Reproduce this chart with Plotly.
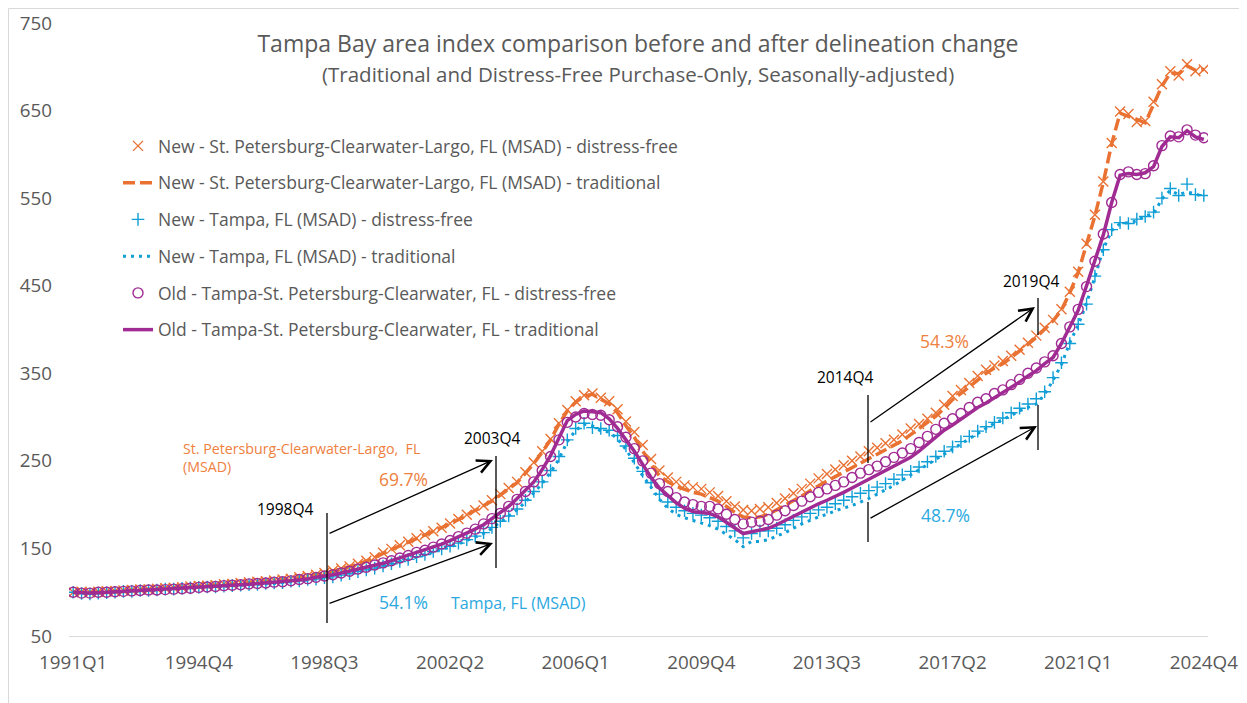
import plotly.graph_objects as go

# quarters 1991Q1 .. 2024Q4
quarters = [f"{1991 + i // 4}Q{i % 4 + 1}" for i in range(136)]
tick_labels = ["1991Q1", "1994Q4", "1998Q3", "2002Q2", "2006Q1",
               "2009Q4", "2013Q3", "2017Q2", "2021Q1", "2024Q4"]

# New - St. Petersburg-Clearwater-Largo, FL (MSAD)
stpete_df = [
    100, 100.5, 100, 100.5, 101, 101, 102, 102.5,
    103, 103, 104, 104.5, 105, 105.5, 106.5, 107,
    107.5, 108, 109, 109.5, 110.5, 111, 112, 112.5,
    113.5, 114.5, 115.5, 117, 118.5, 120, 122, 124.5,
    127, 129.5, 132.5, 136, 140, 145, 149.5, 153.5,
    157.5, 161.5, 165.5, 169.5, 173.5, 178.5, 183.5, 188.5,
    193.5, 199, 205, 212, 219, 226, 237, 248,
    261, 275, 293, 308, 318, 325, 327, 322,
    318, 309, 295, 283, 268, 252, 239, 231,
    226, 222, 220, 218, 214, 210, 204, 198,
    194, 193, 195, 197, 202, 207, 213, 218,
    224, 230, 235, 240, 245, 250, 255, 261,
    265, 270, 274, 280, 287, 292, 298, 305,
    314, 324, 331, 339, 347, 354, 359, 364,
    370, 377, 385, 393, 402, 411, 423, 443,
    466, 498, 531, 569, 613, 649, 646, 637,
    638, 660, 680, 695, 690, 703, 695, 697,
]
stpete_trad = [
    100, 100, 99.5, 100, 100.5, 101, 101.5, 102,
    102.5, 103, 103.5, 104, 104.5, 105, 106, 106.5,
    107, 107.5, 108.5, 109, 110, 110.5, 111.5, 112,
    113, 114, 115, 116.5, 118, 119.5, 121.5, 124,
    126.5, 129, 132, 135.5, 140, 145, 149, 153,
    157, 161, 165, 169, 173, 178, 183, 188,
    193, 198, 204, 211, 218, 225, 236, 247,
    260, 274, 292, 307, 317, 324, 326, 320,
    315, 305, 290, 277, 262, 246, 233, 226,
    221, 217, 214, 212, 208, 204, 198, 191,
    186, 185, 186, 189, 194, 199, 205, 210,
    216, 222, 227, 232, 237, 242, 247, 252,
    257, 262, 267, 273, 280, 287, 293, 301,
    310, 320, 327, 335, 343, 350, 356, 361,
    368, 375, 383, 391, 400, 410, 422, 442,
    465, 497, 530, 568, 612, 647, 644, 640,
    636, 658, 678, 693, 692, 701, 696, 697,
]

# New - Tampa, FL (MSAD)
tampa_df = [
    100, 98.5, 98, 99, 99.5, 100, 101, 101,
    102, 102, 102.5, 103.5, 103.5, 104.5, 105, 105.5,
    106, 106, 107, 107.5, 108, 108.5, 109, 110,
    110.5, 111, 112.5, 113, 114.5, 115, 116.5, 117.5,
    119.5, 121, 123.5, 125.5, 127.5, 130, 132.5, 135,
    137.5, 140.5, 143, 146.5, 149.5, 152.5, 156, 160,
    164, 168, 174, 181, 187, 195, 205, 215,
    226, 239, 255, 274, 287, 293, 288, 287,
    285, 279, 267, 253, 238, 225, 212, 203,
    197, 193, 190, 188, 185, 181, 175, 170,
    162, 167, 170, 170, 173, 177, 182, 186,
    190, 194, 197, 201, 205, 209, 213, 216,
    220, 224, 229, 234, 238, 243, 249, 255,
    261, 266, 272, 278, 284, 289, 294, 299,
    305, 310, 315, 321, 329, 345, 362, 384,
    406, 429, 461, 491, 514, 522, 521, 526,
    529, 534, 550, 561, 553, 566, 554, 553,
]
tampa_trad = [
    100, 99, 98.5, 99, 99.5, 100, 100.5, 101,
    101.5, 102, 102.5, 103, 103.5, 104, 104.5, 105,
    105.5, 106, 106.5, 107, 107.5, 108, 109, 109.5,
    110, 111, 112, 113, 114, 115, 116, 117,
    119, 121, 123, 125, 127, 130, 132, 135,
    137, 140, 143, 146, 149, 152, 155, 159,
    163, 167, 173, 180, 186, 194, 203, 213,
    224, 237, 252, 272, 285, 292, 290, 284,
    283, 275, 263, 248, 233, 220, 206, 196,
    189, 185, 182, 179, 176, 172, 166, 160,
    152, 158, 158, 160, 164, 168, 173, 178,
    182, 186, 189, 193, 196, 199, 203, 207,
    212, 217, 222, 228, 234, 240, 246, 252,
    258, 264, 270, 276, 282, 288, 293, 297,
    302, 307, 311, 315, 326, 342, 360, 385,
    405, 430, 460, 492, 513, 521, 522, 524,
    530, 532, 549, 559, 554, 557, 555, 551,
]

# Old - Tampa-St. Petersburg-Clearwater, FL
old_df = [
    100, 99, 99, 100, 100, 100.5, 101, 101.5,
    102, 102.5, 102.5, 103, 103.5, 104, 104.5, 105.5,
    106, 106.5, 107.5, 108, 108.5, 109.5, 110, 110.5,
    111.5, 112, 113, 114.5, 115.5, 117, 118.5, 120,
    122, 124, 126.5, 128.5, 131, 133.5, 136, 139,
    142, 145.5, 148, 151.5, 155, 159, 163.5, 167.5,
    172, 178, 184, 190, 198, 206, 215, 226,
    239, 255, 274, 294, 300, 304, 303, 302,
    297, 289, 277, 264, 250, 236, 224, 215,
    208, 203, 200, 198, 198, 195, 189, 183,
    178, 180, 181, 183, 188, 193, 199, 204,
    209, 214, 218, 222, 226, 231, 236, 240,
    244, 249, 254, 259, 264, 271, 278, 286,
    293, 298, 304, 311, 317, 321, 327, 331,
    337, 343, 350, 356, 363, 370, 384, 403,
    423, 449, 478, 509, 545, 577, 580, 577,
    578, 587, 610, 621, 620, 628, 622, 619,
]
old_trad = [
    100, 99.5, 99, 99.5, 100, 100.5, 101, 101.5,
    102, 102, 102.5, 103, 103.5, 104, 105, 105.5,
    106, 106.5, 107, 108, 108.5, 109, 110, 110.5,
    111, 112, 113, 114, 115, 117, 118, 120,
    122, 124, 126, 128, 131, 133, 136, 139,
    142, 145, 148, 151, 155, 159, 163, 167,
    172, 177, 184, 191, 198, 207, 216, 226,
    240, 256, 276, 296, 303, 307, 306, 305,
    298, 287, 274, 261, 246, 231, 219, 210,
    202, 196, 192, 191, 190, 186, 180, 173,
    167, 169, 171, 173, 177, 182, 187, 192,
    197, 201, 205, 209, 214, 219, 224, 228,
    233, 238, 244, 249, 254, 261, 269, 277,
    285, 291, 298, 305, 311, 316, 322, 327,
    333, 340, 347, 353, 361, 368, 384, 402,
    422, 450, 478, 508, 545, 576, 578, 577,
    579, 586, 609, 620, 619, 627, 620, 617,
]

ORANGE = "#E97132"
BLUE = "#0F9ED5"
PURPLE = "#A02B93"
GREY = "#595959"
TXT_ORANGE = "#EE8040"
TXT_BLUE = "#2BA8E0"
FONT = "Open Sans"

# the page body has an 8px margin, so the figure is drawn from (8, 8)
OFF = 8
W, H = 1247 - OFF, 703 - OFF
# plot area in page pixels (reference), used only to place decorations
L, R, T, B = 69, 1208, 23, 636


def px(xp):
    # page x pixel -> category position
    return (xp - L) / (R - L) * 136 - 0.5


def py(yp):
    # page y pixel -> index value
    return 50 + (B - yp) / (B - T) * 700


def paper_x(xp):
    return (xp - L) / (R - L)


def paper_y(yp):
    return (B - yp) / (B - T)


fig = go.Figure()

fig.add_trace(go.Scatter(
    x=quarters, y=stpete_df, mode="markers",
    name="New - St. Petersburg-Clearwater-Largo, FL (MSAD) - distress-free",
    marker=dict(symbol="x-thin", size=10, color=ORANGE,
                line=dict(color=ORANGE, width=1.4)),
    legendgroup="a",
))
fig.add_trace(go.Scatter(
    x=quarters, y=stpete_trad, mode="lines",
    name="New - St. Petersburg-Clearwater-Largo, FL (MSAD) - traditional",
    line=dict(color=ORANGE, width=3.5, dash="12px,5px"),
    legendgroup="b",
))
fig.add_trace(go.Scatter(
    x=quarters, y=tampa_df, mode="markers",
    name="New - Tampa, FL (MSAD) - distress-free",
    marker=dict(symbol="cross-thin", size=9, color=BLUE,
                line=dict(color=BLUE, width=1.4)),
    legendgroup="c",
))
fig.add_trace(go.Scatter(
    x=quarters, y=tampa_trad, mode="lines",
    name="New - Tampa, FL (MSAD) - traditional",
    line=dict(color=BLUE, width=3, dash="3px,5px"),
    legendgroup="d",
))
fig.add_trace(go.Scatter(
    x=quarters, y=old_df, mode="markers",
    name="Old - Tampa-St. Petersburg-Clearwater, FL - distress-free",
    marker=dict(symbol="circle-open", size=10, color=PURPLE,
                line=dict(color=PURPLE, width=1.4)),
    legendgroup="e",
))
fig.add_trace(go.Scatter(
    x=quarters, y=old_trad, mode="lines",
    name="Old - Tampa-St. Petersburg-Clearwater, FL - traditional",
    line=dict(color=PURPLE, width=3.5),
    legendgroup="f",
))

# annotation lines (vertical markers at the compared quarters)
shapes = []
for x0, y0, y1 in [(327, 513, 623), (496, 456, 568),
                   (868, 395, 463), (868, 502, 542),
                   (1038, 298, 335), (1038, 405, 450)]:
    shapes.append(dict(type="line", xref="x", yref="y",
                       x0=px(x0), x1=px(x0), y0=py(y0), y1=py(y1),
                       line=dict(color="black", width=1.3)))
# chart frame
shapes.append(dict(type="line", xref="paper", yref="paper",
                   x0=paper_x(8.5), x1=paper_x(1260), y0=paper_y(8.5), y1=paper_y(8.5),
                   line=dict(color="#D9D9D9", width=1)))
shapes.append(dict(type="line", xref="paper", yref="paper",
                   x0=paper_x(8.5), x1=paper_x(8.5), y0=paper_y(8.5), y1=paper_y(710),
                   line=dict(color="#D9D9D9", width=1)))

annotations = []
# arrows
for (x0, y0), (x1, y1) in [((328, 534), (493, 460)), ((328, 604), (493, 543)),
                           ((869, 423), (1035, 307)), ((869, 519), (1037, 426))]:
    annotations.append(dict(
        x=px(x1), y=py(y1), ax=px(x0), ay=py(y0), xref="x", yref="y",
        axref="x", ayref="y", text="", showarrow=True, arrowhead=5,
        arrowsize=2, arrowwidth=1.3, arrowcolor="black",
    ))

labels = [
    ("1998Q4", 285, 509, 15.5, "black"),
    ("2003Q4", 492, 438, 15.5, "black"),
    ("2014Q4", 845, 377, 15.5, "black"),
    ("2019Q4", 1032, 281, 15.5, "black"),
    ("69.7%", 403, 479, 17.5, TXT_ORANGE),
    ("54.3%", 944, 341, 17.5, TXT_ORANGE),
    ("54.1%", 403, 602, 17.5, TXT_BLUE),
    ("48.7%", 945, 515, 17.5, TXT_BLUE),
    ("Tampa, FL (MSAD)", 518, 603, 16, TXT_BLUE),
]
for text, xc, yc, size, color in labels:
    annotations.append(dict(
        x=paper_x(xc), y=paper_y(yc), xref="paper", yref="paper",
        text=text, showarrow=False, xanchor="center", yanchor="middle",
        font=dict(family=FONT, size=size, color=color),
    ))
annotations.append(dict(
    x=paper_x(181), y=paper_y(437), xref="paper", yref="paper",
    text="St. Petersburg-Clearwater-Largo,  FL<br>(MSAD)", showarrow=False,
    xanchor="left", yanchor="top", align="left",
    font=dict(family=FONT, size=14.2, color=TXT_ORANGE),
))
annotations.append(dict(
    x=paper_x(638), y=paper_y(74), xref="paper", yref="paper",
    text="(Traditional and Distress-Free Purchase-Only, Seasonally-adjusted)",
    showarrow=False, xanchor="center", yanchor="middle",
    font=dict(family=FONT, size=20.5, color=GREY),
))

fig.update_layout(
    width=W, height=H,
    paper_bgcolor="white", plot_bgcolor="white",
    margin=dict(l=L - OFF, r=OFF + W - R, t=T - OFF, b=OFF + H - B),
    title=dict(
        text="Tampa Bay area index comparison before and after delineation change",
        x=(638 - OFF) / W, xanchor="center", xref="container",
        y=1 - (44 - OFF) / H, yanchor="middle", yref="container",
        font=dict(family=FONT, size=23, color=GREY),
    ),
    font=dict(family=FONT, color=GREY),
    showlegend=True,
    legend=dict(
        x=paper_x(118), y=paper_y(128), xanchor="left", yanchor="top",
        bgcolor="rgba(0,0,0,0)", tracegroupgap=11,
        font=dict(family=FONT, size=17.5, color=GREY),
    ),
    shapes=shapes,
    annotations=annotations,
)
fig.update_xaxes(
    type="category", range=[-0.5, 135.5], automargin=False,
    tickmode="array", tickvals=tick_labels, ticktext=tick_labels,
    showgrid=False, showline=True, linecolor="#D9D9D9", linewidth=1.3,
    ticks="", ticklabelstandoff=9, zeroline=False,
    tickfont=dict(family=FONT, size=18.8, color=GREY),
)
fig.update_yaxes(
    range=[50, 750], tickvals=[50, 150, 250, 350, 450, 550, 650, 750],
    automargin=False,
    showgrid=False, showline=False, zeroline=False, ticks="",
    ticklabelstandoff=16,
    tickfont=dict(family=FONT, size=18.8, color=GREY),
)

fig.write_html("out.html")
